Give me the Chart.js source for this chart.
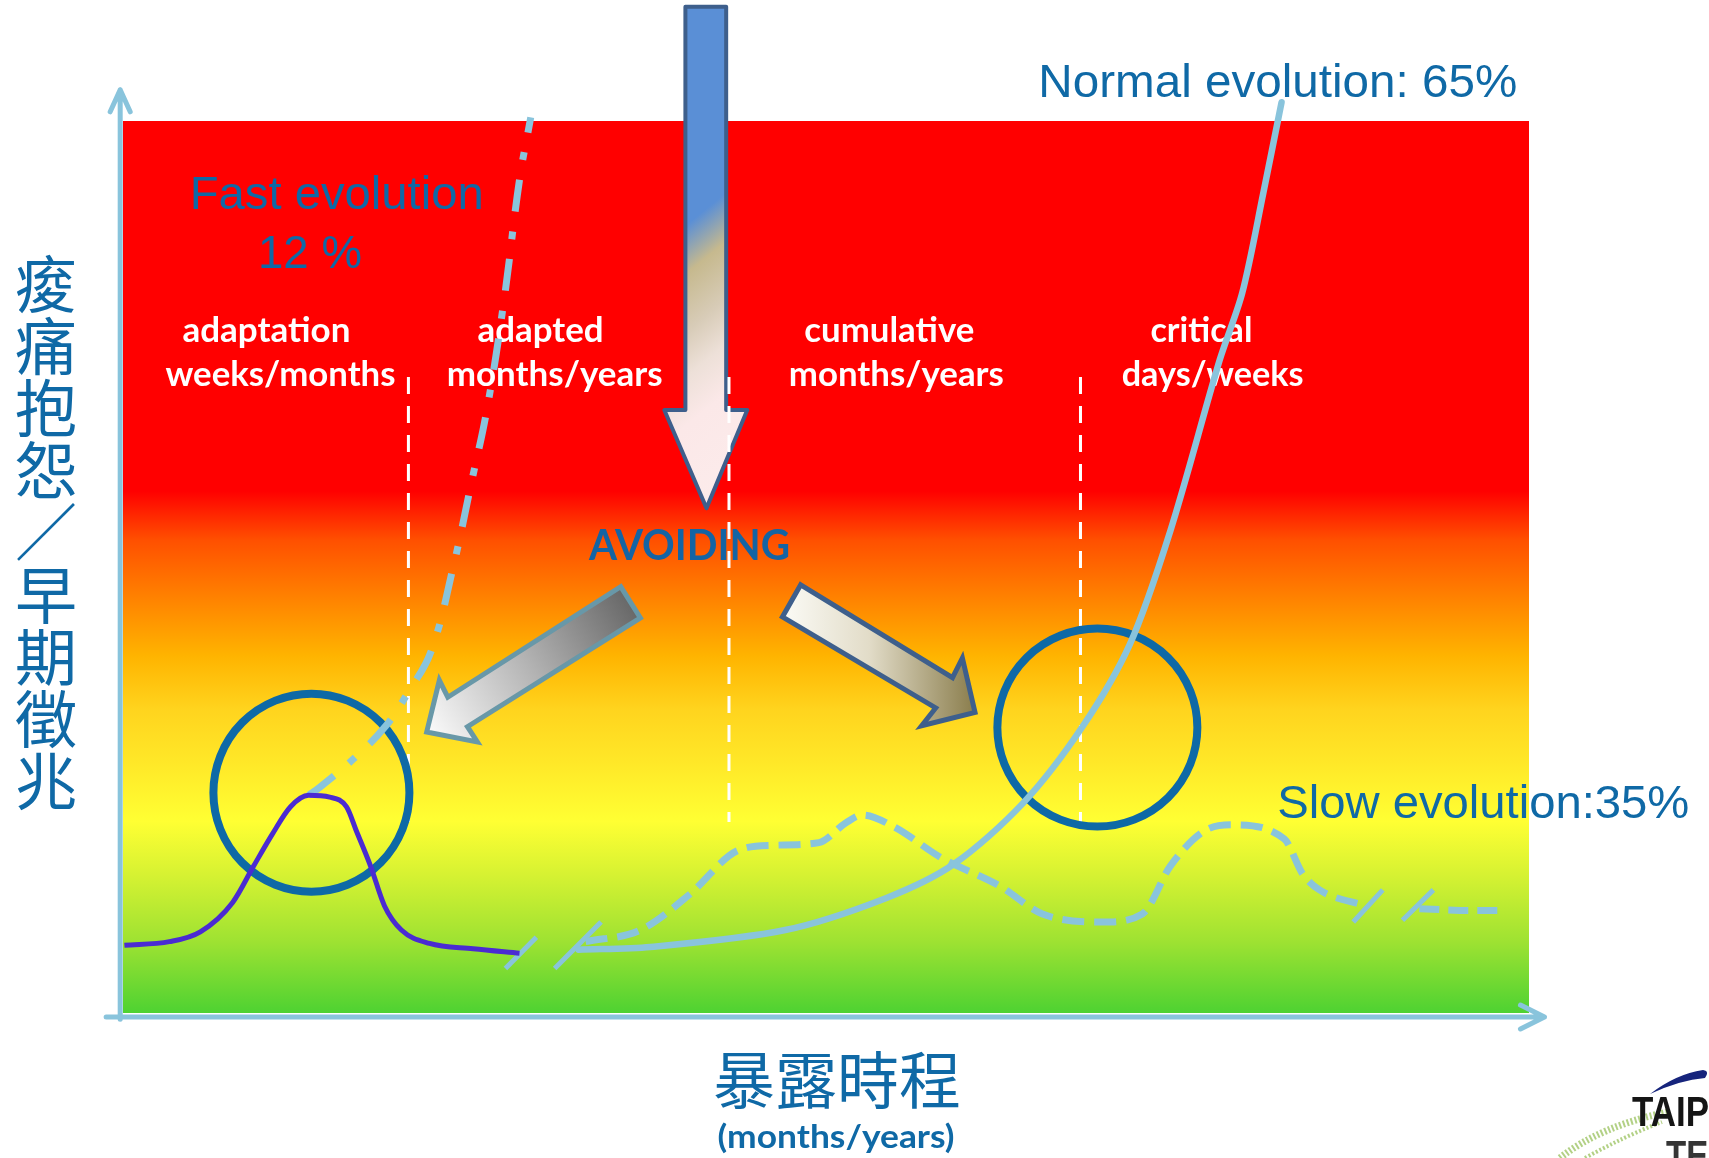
<!DOCTYPE html>
<html>
<head>
<meta charset="utf-8">
<script src="https://cdn.jsdelivr.net/npm/chart.js@4/dist/chart.umd.min.js"></script>
<style>
  html, body { margin: 0; padding: 0; background: #ffffff; }
  canvas { display: block; }
</style>
</head>
<body>
<canvas id="c" width="1709" height="1158"></canvas>
<script>
// Both axes run 0..100: exposure time (x) against symptom level (y).

// Adaptation bump (purple)
const bellX = [0.1, 3.3, 5.5, 7.8, 9.3, 10.6, 11.9, 13.2, 14.7, 15.9, 16.6, 17.6, 18.6, 19.8, 21.8, 24.9, 28.2];
const bellY = [7.6, 8.0, 9.1, 12.4, 16.5, 20.0, 23.1, 24.4, 24.2, 23.1, 20.4, 16.5, 12.0, 9.3, 7.8, 7.2, 6.7];

// Fast evolution (12 %)
const fastX = [13.2, 14.0, 16.4, 18.7, 20.3, 21.9, 23.5, 24.8, 25.9, 27.1, 28.2, 29.0];
const fastY = [24.4, 25.3, 28.5, 32.2, 36.0, 40.5, 50.1, 59.6, 67.8, 79.9, 93.4, 100.4];

// Normal evolution (65 %)
const normalX = [32.4, 37.5, 47.1, 54.3, 59.1, 64.0, 68.2, 71.6, 74.5, 78.0, 79.6, 81.1, 82.4];
const normalY = [7.1, 7.4, 9.3, 12.9, 16.7, 23.5, 32.0, 41.3, 54.1, 73.2, 80.7, 91.9, 102.1];

// Slow evolution (35 %), before and after the axis break
const slowX = [32.9, 36.8, 40.3, 43.7, 46.2, 49.5, 51.4, 52.6, 54.8, 58.2, 62.4, 65.4, 69.7, 72.5, 74.5, 76.9, 78.8, 82.6, 83.9, 85.1, 88.4];
const slowY = [8.0, 9.3, 13.3, 18.2, 18.8, 19.1, 21.3, 22.2, 20.9, 17.4, 14.2, 11.1, 10.2, 11.1, 16.5, 20.4, 21.1, 19.5, 15.6, 13.8, 12.0];
const slowTailX = [92.2, 95.1, 97.9];
const slowTailY = [11.7, 11.5, 11.5];

// Time-break slashes (start/end of each)
const breakMarksX = [[27.2, 29.4], [30.7, 34.0], [87.5, 89.6], [91.0, 93.2]];
const breakMarksY = [[5.0, 8.5], [5.0, 10.2], [10.2, 13.8], [10.4, 13.8]];

// Phase boundaries and phase labels
const phaseBounds = [20.3, 43.1, 68.1];
const phaseNames = ['adaptation', 'adapted', 'cumulative', 'critical'];
const phaseDurations = ['weeks/months', 'months/years', 'months/years', 'days/weeks'];

const pts = (xs, ys) => xs.map((x, i) => ({ x, y: ys[i] }));

const LIGHT_BLUE = '#89c4dc';
const TEXT_BLUE = '#0f69a6';

function fitText(ctx, str, x, baseline, font, color, width, align) {
  ctx.save();
  ctx.font = font;
  ctx.fillStyle = color;
  ctx.textBaseline = 'alphabetic';
  ctx.textAlign = align || 'center';
  const w = ctx.measureText(str).width;
  const s = width ? width / w : 1;
  ctx.translate(x, baseline);
  ctx.scale(s, 1);
  ctx.fillText(str, 0, 0);
  ctx.restore();
}

function polygon(ctx, P, list) {
  ctx.beginPath();
  list.forEach(([vx, vy], i) => {
    const [px, py] = P(vx, vy);
    if (i === 0) ctx.moveTo(px, py); else ctx.lineTo(px, py);
  });
  ctx.closePath();
}

const diagram = {
  id: 'diagram',
  beforeDatasetsDraw(chart) {
    const { ctx, chartArea: a, scales: { x, y } } = chart;
    const P = (vx, vy) => [x.getPixelForValue(vx), y.getPixelForValue(vy)];
    ctx.save();

    // Severity background, red (top) to green (bottom)
    const g = ctx.createLinearGradient(0, a.top, 0, a.bottom);
    g.addColorStop(0, '#ff0000');
    g.addColorStop(0.415, '#ff0000');
    g.addColorStop(0.47, '#ff5000');
    g.addColorStop(0.545, '#ff8a00');
    g.addColorStop(0.60, '#ffb400');
    g.addColorStop(0.66, '#ffd41e');
    g.addColorStop(0.72, '#ffe828');
    g.addColorStop(0.785, '#ffff33');
    g.addColorStop(0.845, '#d6f232');
    g.addColorStop(0.92, '#9ee232');
    g.addColorStop(1, '#4ed232');
    ctx.fillStyle = g;
    ctx.fillRect(a.left, a.top, a.right - a.left, a.bottom - a.top);

    // Phase labels
    const labelFont = 'bold 35px Lato, "Open Sans", sans-serif';
    const nameW = [168, 126, 170, 102];
    const durW = [230, 216, 215, 182];
    const nameX = [10.2, 29.7, 54.5, 76.7];
    const durX = [11.2, 30.7, 55.0, 77.5];
    phaseNames.forEach((t, i) => {
      const [px, py] = P(nameX[i], 75.2);
      fitText(ctx, t, px, py, labelFont, '#ffffff', nameW[i]);
    });
    phaseDurations.forEach((t, i) => {
      const [px, py] = P(durX[i], 70.3);
      fitText(ctx, t, px, py, labelFont, '#ffffff', durW[i]);
    });

    // AVOIDING
    {
      const [px, py] = P(40.3, 50.8);
      fitText(ctx, 'AVOIDING', px, py, 'bold 42px Lato, "Open Sans", sans-serif', '#1464a4', 201);
    }

    // Big downward arrow
    polygon(ctx, P, [[40.0, 112.8], [42.9, 112.8], [42.9, 67.6], [44.4, 67.6], [41.5, 56.6], [38.5, 67.6], [40.0, 67.6]]);
    {
      const [sx, sy] = P(39.6, 97.1);
      const [ex, ey] = P(56.6, 63.9);
      const bg = ctx.createLinearGradient(sx, sy, ex, ey);
      bg.addColorStop(0, '#5a8fd6');
      bg.addColorStop(0.17, '#5a8fd6');
      bg.addColorStop(0.27, '#c6b98e');
      bg.addColorStop(0.39, '#d8ccb8');
      bg.addColorStop(0.48, '#ede0d8');
      bg.addColorStop(0.58, '#fbe8e8');
      bg.addColorStop(1, '#fdeeee');
      ctx.fillStyle = bg;
    }
    ctx.fill();
    ctx.lineJoin = 'round';
    ctx.lineWidth = 4;
    ctx.strokeStyle = '#3e5f8c';
    ctx.stroke();

    // Arrow towards adaptation
    polygon(ctx, P, [[35.4, 47.8], [36.8, 44.3], [24.5, 32.1], [25.2, 30.4], [21.6, 31.5], [22.5, 37.3], [23.1, 35.4]]);
    {
      const [sx, sy] = P(36.1, 46.0);
      const [ex, ey] = P(21.6, 31.5);
      const gg = ctx.createLinearGradient(sx, sy, ex, ey);
      gg.addColorStop(0, '#686868');
      gg.addColorStop(0.5, '#b4b4b4');
      gg.addColorStop(1, '#fbfbfb');
      ctx.fillStyle = gg;
    }
    ctx.fill();
    ctx.lineJoin = 'miter';
    ctx.lineWidth = 5;
    ctx.strokeStyle = '#6898a8';
    ctx.stroke();

    // Arrow towards the critical phase
    polygon(ctx, P, [[48.2, 48.0], [59.0, 37.6], [59.7, 39.8], [60.6, 33.7], [56.8, 32.2], [57.8, 34.2], [46.9, 44.4]]);
    {
      const [sx] = P(46.9, 40);
      const [ex] = P(60.6, 40);
      const kg = ctx.createLinearGradient(sx, 0, ex, 0);
      kg.addColorStop(0, '#fbfbf6');
      kg.addColorStop(0.45, '#e2dcc8');
      kg.addColorStop(1, '#8a7d4c');
      ctx.fillStyle = kg;
    }
    ctx.fill();
    ctx.lineWidth = 5;
    ctx.strokeStyle = '#3e5f8c';
    ctx.stroke();

    // Phase boundaries
    ctx.strokeStyle = '#ffffff';
    ctx.lineWidth = 3;
    ctx.setLineDash([17, 12]);
    phaseBounds.forEach(b => {
      const [px, top] = P(b, 71.3);
      const [, bot] = P(b, 21.4);
      ctx.beginPath();
      ctx.moveTo(px, top);
      ctx.lineTo(px, bot);
      ctx.stroke();
    });
    ctx.setLineDash([]);

    // Highlight rings
    ctx.strokeStyle = '#0e69a6';
    ctx.lineWidth = 8;
    [[13.4, 24.7, 98, 99], [69.3, 32.0, 100, 99]].forEach(([cx, cy, rx, ry]) => {
      const [px, py] = P(cx, cy);
      ctx.beginPath();
      ctx.ellipse(px, py, rx, ry, 0, 0, Math.PI * 2);
      ctx.stroke();
    });

    // Axes with open arrow heads
    ctx.strokeStyle = LIGHT_BLUE;
    ctx.lineWidth = 5;
    ctx.lineCap = 'round';
    ctx.lineJoin = 'round';
    {
      const [ax, atop] = P(-0.2, 103.5);
      const [, abot] = P(-0.2, -0.7);
      ctx.beginPath();
      ctx.moveTo(ax, abot); ctx.lineTo(ax, atop);
      ctx.moveTo(ax - 10, atop + 22); ctx.lineTo(ax, atop); ctx.lineTo(ax + 10, atop + 22);
      ctx.stroke();
      const [xl, ay] = P(-1.2, -0.45);
      const [xr] = P(101.1, -0.45);
      ctx.beginPath();
      ctx.moveTo(xl, ay); ctx.lineTo(xr, ay);
      ctx.moveTo(xr - 24, ay - 12); ctx.lineTo(xr, ay); ctx.lineTo(xr - 24, ay + 12);
      ctx.stroke();
    }
    ctx.restore();
  },
  afterDatasetsDraw(chart) {
    const { ctx, scales: { x, y } } = chart;
    const P = (vx, vy) => [x.getPixelForValue(vx), y.getPixelForValue(vy)];
    ctx.save();
    const sans = '"Liberation Sans", Arial, sans-serif';

    let [px, py] = P(15.2, 90.1);
    fitText(ctx, 'Fast evolution', px, py, '47px ' + sans, TEXT_BLUE, 294);
    [px, py] = P(13.3, 83.5);
    fitText(ctx, '12 %', px, py, '47px ' + sans, TEXT_BLUE, 104);
    [px, py] = P(65.1, 102.7);
    fitText(ctx, 'Normal evolution: 65%', px, py, '47px ' + sans, TEXT_BLUE, 479, 'left');
    [px, py] = P(82.1, 21.9);
    fitText(ctx, 'Slow evolution:35%', px, py, '47px ' + sans, TEXT_BLUE, 412, 'left');

    // Vertical y-axis title
    const yTitle = '痠痛抱怨／早期徵兆';
    ctx.font = '62px "Noto Sans CJK TC", "Noto Sans CJK SC", sans-serif';
    ctx.fillStyle = TEXT_BLUE;
    ctx.textAlign = 'center';
    ctx.textBaseline = 'middle';
    Array.from(yTitle).forEach((ch, i) => {
      ctx.fillText(ch, 46, 284 + 62.2 * i);
    });

    // X-axis title
    ctx.font = '62px "Noto Sans CJK TC", "Noto Sans CJK SC", sans-serif';
    ctx.fillText('暴露時程', 837, 1080);
    fitText(ctx, '(months/years)', 836, 1148, 'bold 32px Lato, "Open Sans", sans-serif', TEXT_BLUE, 237);

    // Corner logo
    ctx.fillStyle = '#16247c';
    ctx.beginPath();
    ctx.moveTo(1650, 1094);
    ctx.quadraticCurveTo(1676, 1074, 1703, 1070);
    ctx.quadraticCurveTo(1710, 1071, 1705, 1078);
    ctx.quadraticCurveTo(1680, 1080, 1650, 1094);
    ctx.fill();
    ctx.strokeStyle = '#b3d186';
    ctx.lineWidth = 7;
    ctx.setLineDash([2, 2]);
    ctx.beginPath();
    ctx.moveTo(1560, 1158);
    ctx.quadraticCurveTo(1600, 1126, 1668, 1112);
    ctx.stroke();
    ctx.lineWidth = 4;
    ctx.beginPath();
    ctx.moveTo(1585, 1158);
    ctx.quadraticCurveTo(1625, 1136, 1662, 1122);
    ctx.stroke();
    ctx.setLineDash([]);
    fitText(ctx, 'TAIP', 1632, 1126, 'bold 43px "Liberation Sans", Arial, sans-serif', '#151515', 77, 'left');
    fitText(ctx, 'TEC', 1666, 1170, 'bold 43px "Liberation Sans", Arial, sans-serif', '#353535', 66, 'left');
    ctx.restore();
  }
};

const lineBase = {
  showLine: true,
  pointRadius: 0,
  pointHoverRadius: 0,
  fill: false,
  clip: false,
  borderCapStyle: 'butt'
};

const datasets = [
  Object.assign({}, lineBase, { label: 'adaptation', data: pts(bellX, bellY), borderColor: '#4a2bd2', borderWidth: 5, cubicInterpolationMode: 'monotone' }),
  Object.assign({}, lineBase, { label: 'Slow evolution', data: pts(slowX, slowY), borderColor: LIGHT_BLUE, borderWidth: 7, borderDash: [22, 10], cubicInterpolationMode: 'monotone' }),
  Object.assign({}, lineBase, { label: 'Slow evolution (later)', data: pts(slowTailX, slowTailY), borderColor: LIGHT_BLUE, borderWidth: 7, borderDash: [20, 9] }),
  Object.assign({}, lineBase, { label: 'Normal evolution', data: pts(normalX, normalY), borderColor: LIGHT_BLUE, borderWidth: 6.5, tension: 0.3, borderCapStyle: 'round' }),
  Object.assign({}, lineBase, { label: 'Fast evolution', data: pts(fastX, fastY), borderColor: LIGHT_BLUE, borderWidth: 7, borderDash: [32, 20, 8, 20], tension: 0.4 })
];
breakMarksX.forEach((xs, i) => {
  datasets.push(Object.assign({}, lineBase, {
    label: 'break ' + (i + 1),
    data: pts(xs, breakMarksY[i]),
    borderColor: LIGHT_BLUE,
    borderWidth: 5
  }));
});

new Chart(document.getElementById('c'), {
  type: 'scatter',
  data: { datasets },
  options: {
    responsive: false,
    animation: false,
    devicePixelRatio: 1,
    layout: { padding: { left: 123, top: 121, right: 180, bottom: 145 } },
    scales: {
      x: { type: 'linear', min: 0, max: 100, display: false },
      y: { type: 'linear', min: 0, max: 100, display: false }
    },
    plugins: { legend: { display: false }, tooltip: { enabled: false } }
  },
  plugins: [diagram]
});
</script>
</body>
</html>
